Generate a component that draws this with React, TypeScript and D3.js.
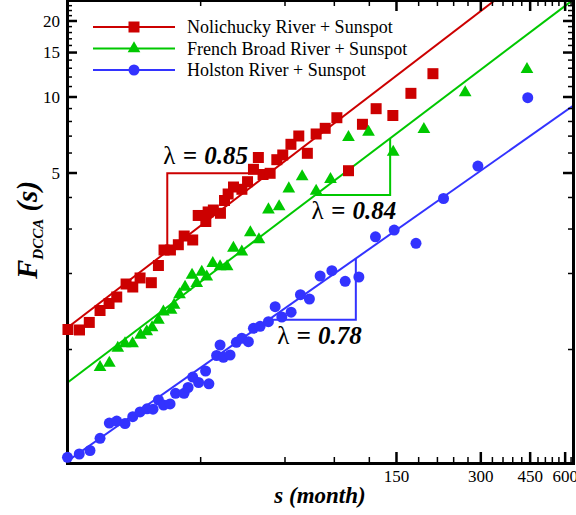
import React from "react";
import * as d3 from "d3";

const WIDTH = 576;
const HEIGHT = 515;

// Plot frame (pixels)
const PLOT_LEFT = 67;
const PLOT_RIGHT = 573;
const PLOT_TOP = 0;
const PLOT_BOTTOM = 464;

const FONT = "'Liberation Serif', 'Times New Roman', Times, serif";

const seriesNames = [
  "Nolichucky River + Sunspot",
  "French Broad River + Sunspot",
  "Holston River + Sunspot",
];
const seriesColors = ["#cc0000", "#00c800", "#3333ff"];
const seriesSymbols = [d3.symbolSquare, d3.symbolTriangle, d3.symbolCircle];
const symbolSizes = [121, 70, 95];

// Nolichucky River + Sunspot
const nolichuckyS = [
  10.08, 11.08, 12.01, 13.12, 14.13, 15.05, 16.25, 17.17, 18.23, 20.0, 21.2,
  22.2, 23.4, 24.97, 26.2, 28.1, 29.4, 31.3, 31.9, 33.3, 35.3, 36.5, 37.6,
  39.3, 42.1, 44.1, 46.3, 48.2, 50.1, 53.1, 56.1, 58.9, 63.0, 67.2, 72.1,
  77.5, 83.5, 91.9, 101.1, 113.4, 126.9, 145.6, 168.9, 202.4,
];
const nolichuckyF = [
  1.2, 1.195, 1.28, 1.427, 1.521, 1.614, 1.817, 1.768, 1.92, 1.839, 2.151,
  2.478, 2.478, 2.6, 2.815, 2.715, 3.395, 3.214, 3.505, 3.568, 3.463, 3.892,
  4.129, 4.401, 4.31, 4.62, 5.172, 5.76, 4.933, 4.987, 5.646, 5.893, 6.497,
  7.008, 5.984, 7.138, 7.516, 8.279, 5.106, 7.797, 8.99, 8.448, 10.34, 12.37,
];

// French Broad River + Sunspot
const frenchBroadS = [
  13.12, 14.16, 15.18, 16.11, 17.14, 18.3, 19.26, 20.12, 21.2, 22.08, 23.52,
  24.11, 25.22, 26.39, 27.95, 29.05, 30.27, 31.54, 33.14, 35.19, 37.28, 39.26,
  42.07, 45.13, 48.42, 52.36, 57.17, 61.91, 69.08, 77.5, 87.2, 101.1, 119.2,
  146.0, 187.9, 263.8, 438.4,
];
const frenchBroadF = [
  0.849, 0.884, 1.014, 1.056, 1.056, 1.141, 1.178, 1.222, 1.309, 1.411, 1.433,
  1.501, 1.651, 1.768, 1.972, 1.829, 2.027, 1.942, 2.194, 2.128, 2.132, 2.523,
  2.439, 2.906, 2.722, 3.578, 3.683, 4.333, 4.835, 4.244, 4.721, 6.926, 7.269,
  6.056, 7.451, 10.42, 12.88,
];

// Holston River + Sunspot
const holstonS = [
  10.04, 11.06, 12.08, 13.12, 14.16, 15.05, 16.11, 17.17, 18.23, 19.31, 20.28,
  21.2, 22.11, 23.33, 24.4, 26.17, 27.05, 28.1, 29.49, 31.24, 32.1, 34.2,
  35.19, 36.16, 38.2, 40.23, 42.07, 44.41, 46.28, 48.91, 52.36, 55.34, 58.45,
  63.1, 68.12, 73.33, 80.09, 88.2, 98.4, 110.1, 126.2, 147.2, 176.1, 220.8,
  292.9, 441.2,
];
const holstonF = [
  0.3742, 0.3856, 0.3981, 0.4449, 0.5114, 0.5208, 0.509, 0.5418, 0.5657,
  0.5823, 0.5802, 0.631, 0.6029, 0.6085, 0.6707, 0.6707, 0.7071, 0.7781,
  0.7401, 0.822, 0.7314, 0.9467, 1.042, 0.9313, 0.951, 1.068, 1.108, 1.074,
  1.213, 1.236, 1.289, 1.477, 1.345, 1.405, 1.648, 1.585, 1.955, 2.052, 1.863,
  1.937, 2.794, 2.973, 2.634, 3.963, 5.329, 9.936,
];

const seriesS = [nolichuckyS, frenchBroadS, holstonS];
const seriesF = [nolichuckyF, frenchBroadF, holstonF];

// Power-law fits: F = A * (s / 10)^lambda
const fitLambda = [0.85, 0.84, 0.78];
const fitAt10 = [1.216, 0.737, 0.36];

// Slope triangles: s-range of the legs, and which corner carries the right angle
const triangleRange: [number, number][] = [
  [22.8, 52.7],
  [76.9, 142.4],
  [52.5, 107.4],
];
const triangleKind = ["upper", "lower", "lower"];

// Axis ticks
const yMajorTicks = [5, 10, 15, 20];
const yMinorTicks = [1, 2, 3, 4, 6, 7, 8, 9, 11, 12, 13, 14, 16, 17, 18, 19, 21, 22, 23, 24];
const xMajorTicks = [150, 300, 450, 600];
const xMinorTicks = [30, 60, 90, 120, 180, 210, 240, 270, 330, 360, 390, 420, 480, 510, 540, 570, 630];

const xScale = d3.scaleLog().domain([10, 640]).range([PLOT_LEFT, PLOT_RIGHT]);
const yScale = d3.scaleLog().domain([0.352, 24.22]).range([PLOT_BOTTOM, PLOT_TOP]);

function fit(i: number, s: number) {
  return fitAt10[i] * Math.pow(s / 10, fitLambda[i]);
}

export default function App() {
  const fitLines = fitLambda.map((_, i) => {
    const pts: [number, number][] = [10, 640].map((s) => [xScale(s), yScale(fit(i, s))]);
    return d3.line()(pts) as string;
  });

  const MAJOR = 10;
  const MINOR = 5;

  return (
    <svg
      width={WIDTH}
      height={HEIGHT}
      style={{ position: "absolute", left: 0, top: 0, background: "#fff" }}
      fontFamily={FONT}
    >
      <defs>
        <clipPath id="plotClip">
          <rect x={PLOT_LEFT} y={PLOT_TOP} width={PLOT_RIGHT - PLOT_LEFT} height={PLOT_BOTTOM - PLOT_TOP} />
        </clipPath>
      </defs>
      <rect x={0} y={0} width={WIDTH} height={HEIGHT} fill="#fff" />

      {/* fitted power laws */}
      <g clipPath="url(#plotClip)">
        {fitLines.map((d, i) => (
          <path key={i} d={d} fill="none" stroke={seriesColors[i]} strokeWidth={2} />
        ))}
      </g>

      {/* slope triangles */}
      {triangleRange.map(([sa, sb], i) => {
        const fa = fit(i, sa);
        const fb = fit(i, sb);
        const pts: [number, number][] =
          triangleKind[i] === "upper"
            ? [
                [xScale(sa), yScale(fa)],
                [xScale(sa), yScale(fb)],
                [xScale(sb), yScale(fb)],
              ]
            : [
                [xScale(sa), yScale(fa)],
                [xScale(sb), yScale(fa)],
                [xScale(sb), yScale(fb)],
              ];
        return (
          <path
            key={i}
            d={d3.line()(pts) as string}
            fill="none"
            stroke={seriesColors[i]}
            strokeWidth={2}
          />
        );
      })}

      {/* frame */}
      <rect
        x={PLOT_LEFT + 0.5}
        y={PLOT_TOP + 0.5}
        width={PLOT_RIGHT - PLOT_LEFT}
        height={PLOT_BOTTOM - PLOT_TOP - 1}
        fill="none"
        stroke="#000"
        strokeWidth={3}
      />

      {/* y ticks (left and right, inward) */}
      {[...yMajorTicks.map((v) => [v, MAJOR]), ...yMinorTicks.map((v) => [v, MINOR])].map(([v, len], k) => {
        const y = yScale(v);
        return (
          <g key={"yt" + k}>
            <line x1={PLOT_LEFT} x2={PLOT_LEFT + len} y1={y} y2={y} stroke="#000" strokeWidth={len === MAJOR ? 2.5 : 1.5} />
            <line x1={PLOT_RIGHT} x2={PLOT_RIGHT - len} y1={y} y2={y} stroke="#000" strokeWidth={len === MAJOR ? 2.5 : 1.5} />
          </g>
        );
      })}
      {yMajorTicks.map((v) => (
        <text key={"yl" + v} x={PLOT_LEFT - 7} y={yScale(v)} dy="0.34em" textAnchor="end" fontSize={17}>
          {v}
        </text>
      ))}

      {/* x ticks (bottom and top, inward) */}
      {[...xMajorTicks.map((v) => [v, MAJOR + 1]), ...xMinorTicks.map((v) => [v, MINOR + 1])].map(([v, len], k) => {
        const x = xScale(v);
        return (
          <g key={"xt" + k}>
            <line x1={x} x2={x} y1={PLOT_BOTTOM - 1} y2={PLOT_BOTTOM - 1 - len} stroke="#000" strokeWidth={len === MAJOR + 1 ? 2.5 : 1.5} />
            <line x1={x} x2={x} y1={PLOT_TOP} y2={PLOT_TOP + len} stroke="#000" strokeWidth={len === MAJOR + 1 ? 2.5 : 1.5} />
          </g>
        );
      })}
      {xMajorTicks.map((v) => (
        <text key={"xl" + v} x={xScale(v)} y={482} textAnchor="middle" fontSize={17}>
          {v}
        </text>
      ))}

      {/* data markers */}
      {seriesS.map((sArr, i) => {
        const sym = d3.symbol().type(seriesSymbols[i]).size(symbolSizes[i])() as string;
        return (
          <g key={"s" + i} fill={seriesColors[i]}>
            {sArr.map((s, j) => (
              <path key={j} d={sym} transform={`translate(${xScale(s)},${yScale(seriesF[i][j])})`} />
            ))}
          </g>
        );
      })}

      {/* slope labels */}
      {triangleRange.map(([sa, sb], i) => {
        const fa = fit(i, sa);
        const upper = triangleKind[i] === "upper";
        const x = upper ? xScale(sa) - 4 : xScale(sb) + 6;
        const y = upper ? yScale(fit(i, sb)) - 9 : yScale(fa) + 24;
        return (
          <text
            key={"lam" + i}
            x={x}
            y={y}
            textAnchor={upper ? "start" : "end"}
            fontSize={25}
            fontWeight="bold"
            fontStyle="italic"
            fill="#000"
            wordSpacing={1}
          >
            <tspan fontWeight="normal" fontStyle="normal">λ</tspan>
            <tspan>{` = ${fitLambda[i].toFixed(2)}`}</tspan>
          </text>
        );
      })}

      {/* legend */}
      {seriesNames.map((name, i) => {
        const y = 27 + i * 21.5;
        const sym = d3.symbol().type(seriesSymbols[i]).size(symbolSizes[i])() as string;
        return (
          <g key={"lg" + i}>
            <line x1={93} x2={175} y1={y} y2={y} stroke={seriesColors[i]} strokeWidth={2} />
            <path d={sym} transform={`translate(134,${y})`} fill={seriesColors[i]} />
            <text x={187} y={y} dy="0.35em" fontSize={18}>
              {name}
            </text>
          </g>
        );
      })}

      {/* axis titles */}
      <text x={(PLOT_LEFT + PLOT_RIGHT) / 2} y={503} textAnchor="middle" fontSize={23} fontWeight="bold" fontStyle="italic">
        s (month)
      </text>
      <text
        transform="translate(37,279) rotate(-90)"
        textAnchor="start"
        fontWeight="bold"
        fontStyle="italic"
        fontSize={29}
      >
        <tspan>F</tspan>
        <tspan fontSize={15} dy={6}>DCCA</tspan>
        <tspan dy={-6}> (s)</tspan>
      </text>
    </svg>
  );
}
